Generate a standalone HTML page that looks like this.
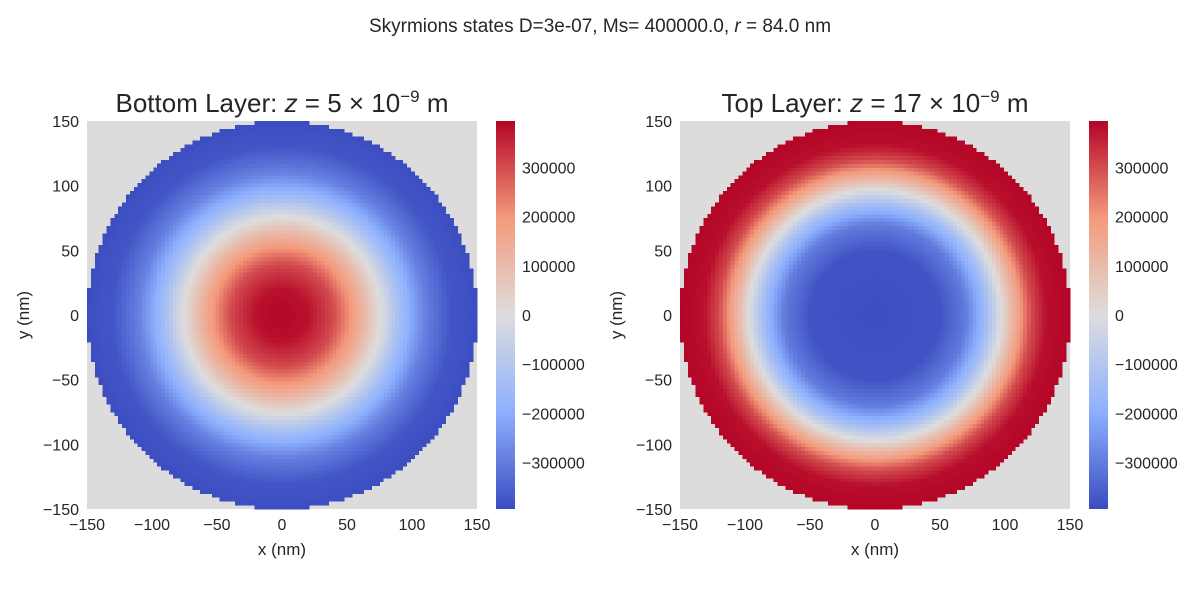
<!DOCTYPE html>
<html><head><meta charset="utf-8"><style>
body{margin:0;background:#fff;}
svg text{font-family:"Liberation Sans","DejaVu Sans",sans-serif;fill:#262626;}
</style></head><body>
<svg id="fig" width="1200" height="600" xmlns="http://www.w3.org/2000/svg">
<defs>
<linearGradient id="cw" x1="0" y1="1" x2="0" y2="0">
<stop offset="0" stop-color="rgb(59,76,192)"/>
<stop offset="0.25" stop-color="rgb(141,176,254)"/>
<stop offset="0.5" stop-color="rgb(221,221,221)"/>
<stop offset="0.75" stop-color="rgb(244,154,123)"/>
<stop offset="1" stop-color="rgb(180,4,38)"/>
</linearGradient>
</defs>
<text x="600" y="32" font-size="19" text-anchor="middle">Skyrmions states D=3e-07, Ms= 400000.0, <tspan font-style="italic">r</tspan> = 84.0 nm</text>
</svg>
<script>
// Radial profiles (radius in nm, Mz values)
const radii = [0, 20, 40, 60, 76, 92, 110, 130, 150];
const bottomValues = [392000, 378000, 300000, 140000, 0, -150000, -290000, -375000, -392000];
const topRadii = [0, 50, 70, 85, 97, 110, 120, 132, 150];
const topValues = [-392000, -380000, -300000, -150000, 0, 170000, 300000, 380000, 392000];
const axisTicks = [-150, -100, -50, 0, 50, 100, 150];
const cbarTicks = [300000, 200000, 100000, 0, -100000, -200000, -300000];
const vmin = -394000, vmax = 394000;
const cellNm = 3;

const NS = "http://www.w3.org/2000/svg";
const svg = document.getElementById('fig');
function mk(tag, attrs, parent){const e=document.createElementNS(NS,tag);for(const k in attrs)e.setAttribute(k,attrs[k]);(parent||svg).appendChild(e);return e;}
const stops=[[0,[59,76,192]],[0.25,[141,176,254]],[0.5,[221,221,221]],[0.75,[244,154,123]],[1,[180,4,38]]];
function cmap(v){let t=(v-vmin)/(vmax-vmin);t=Math.max(0,Math.min(1,t));
 for(let i=0;i<stops.length-1;i++){const a=stops[i],b=stops[i+1];if(t<=b[0]){const f=(t-a[0])/(b[0]-a[0]);return 'rgb('+a[1].map((c,j)=>Math.round(c+(b[1][j]-c)*f)).join(',')+')';}}
 return 'rgb(180,4,38)';}
function interp(rs,vs,r){if(r<=rs[0])return vs[0];for(let i=0;i<rs.length-1;i++){if(r<=rs[i+1]){const f=(r-rs[i])/(rs[i+1]-rs[i]);return vs[i]+(vs[i+1]-vs[i])*f;}}return vs[vs.length-1];}

function panel(x0,name,titleMain,zExp,rs,vs){
 const y0=121,w=390,h=388;
 const sx=v=>x0+(v+150)/300*w, sy=v=>y0+(150-v)/300*h;
 const g=mk('g',{});
 
 
 const bg=mk('rect',{x:x0,y:y0,width:w,height:h,fill:'#dcdcdc'},g);
 
 
 const cells=mk('g',{'shape-rendering':'crispEdges'},g);
 
 
 const n=300/cellNm;
 for(let i=0;i<n;i++)for(let j=0;j<n;j++){
  const cx=-150+cellNm*(i+0.5), cy=-150+cellNm*(j+0.5);
  const r=Math.hypot(cx,cy); if(r>150)continue;
  const xa=sx(cx-cellNm/2), xb=sx(cx+cellNm/2), ya=sy(cy+cellNm/2), yb=sy(cy-cellNm/2);
  const c=mk('rect',{x:xa,y:ya,width:xb-xa+0.3,height:yb-ya+0.3,fill:cmap(interp(rs,vs,r))},cells);
  
  
 }
 axisTicks.forEach(t=>{
  const a=mk('text',{x:sx(t),y:530,'font-size':16,'text-anchor':'middle'},g);a.textContent=(t<0?'\u2212'+(-t):t);
  
  const b=mk('text',{x:x0-8,y:sy(t)+6,'font-size':16,'text-anchor':'end'},g);b.textContent=(t<0?'\u2212'+(-t):t);
  
 });
 const xl=mk('text',{x:x0+w/2,y:555,'font-size':17,'text-anchor':'middle'},g);xl.textContent='x (nm)';
 
 const yl=mk('text',{x:0,y:0,'font-size':17,'text-anchor':'middle',transform:`translate(${x0-58},${y0+h/2}) rotate(-90)`},g);yl.textContent='y (nm)';
 
 const tt=mk('text',{x:x0+w/2,y:112,'font-size':26,'text-anchor':'middle'},g);
 tt.innerHTML=titleMain+': <tspan font-style="italic">z</tspan> = '+zExp+' \u00d7 10<tspan dy="-10" font-size="17">\u22129</tspan><tspan dy="10"> m</tspan>';
 
 const cbx=x0+409;
 const cb=mk('rect',{x:cbx,y:y0,width:19,height:h,fill:'url(#cw)'},g);
 
 cbarTicks.forEach(t=>{
  const y=y0+(vmax-t)/(vmax-vmin)*h;
  const l=mk('text',{x:cbx+26,y:y+6,'font-size':16},g);l.textContent=(t<0?'\u2212'+(-t):t);
  
 });
}
panel(87,'bottom-layer','Bottom Layer','5',radii,bottomValues);
panel(680,'top-layer','Top Layer','17',topRadii,topValues);
</script>
</body></html>
